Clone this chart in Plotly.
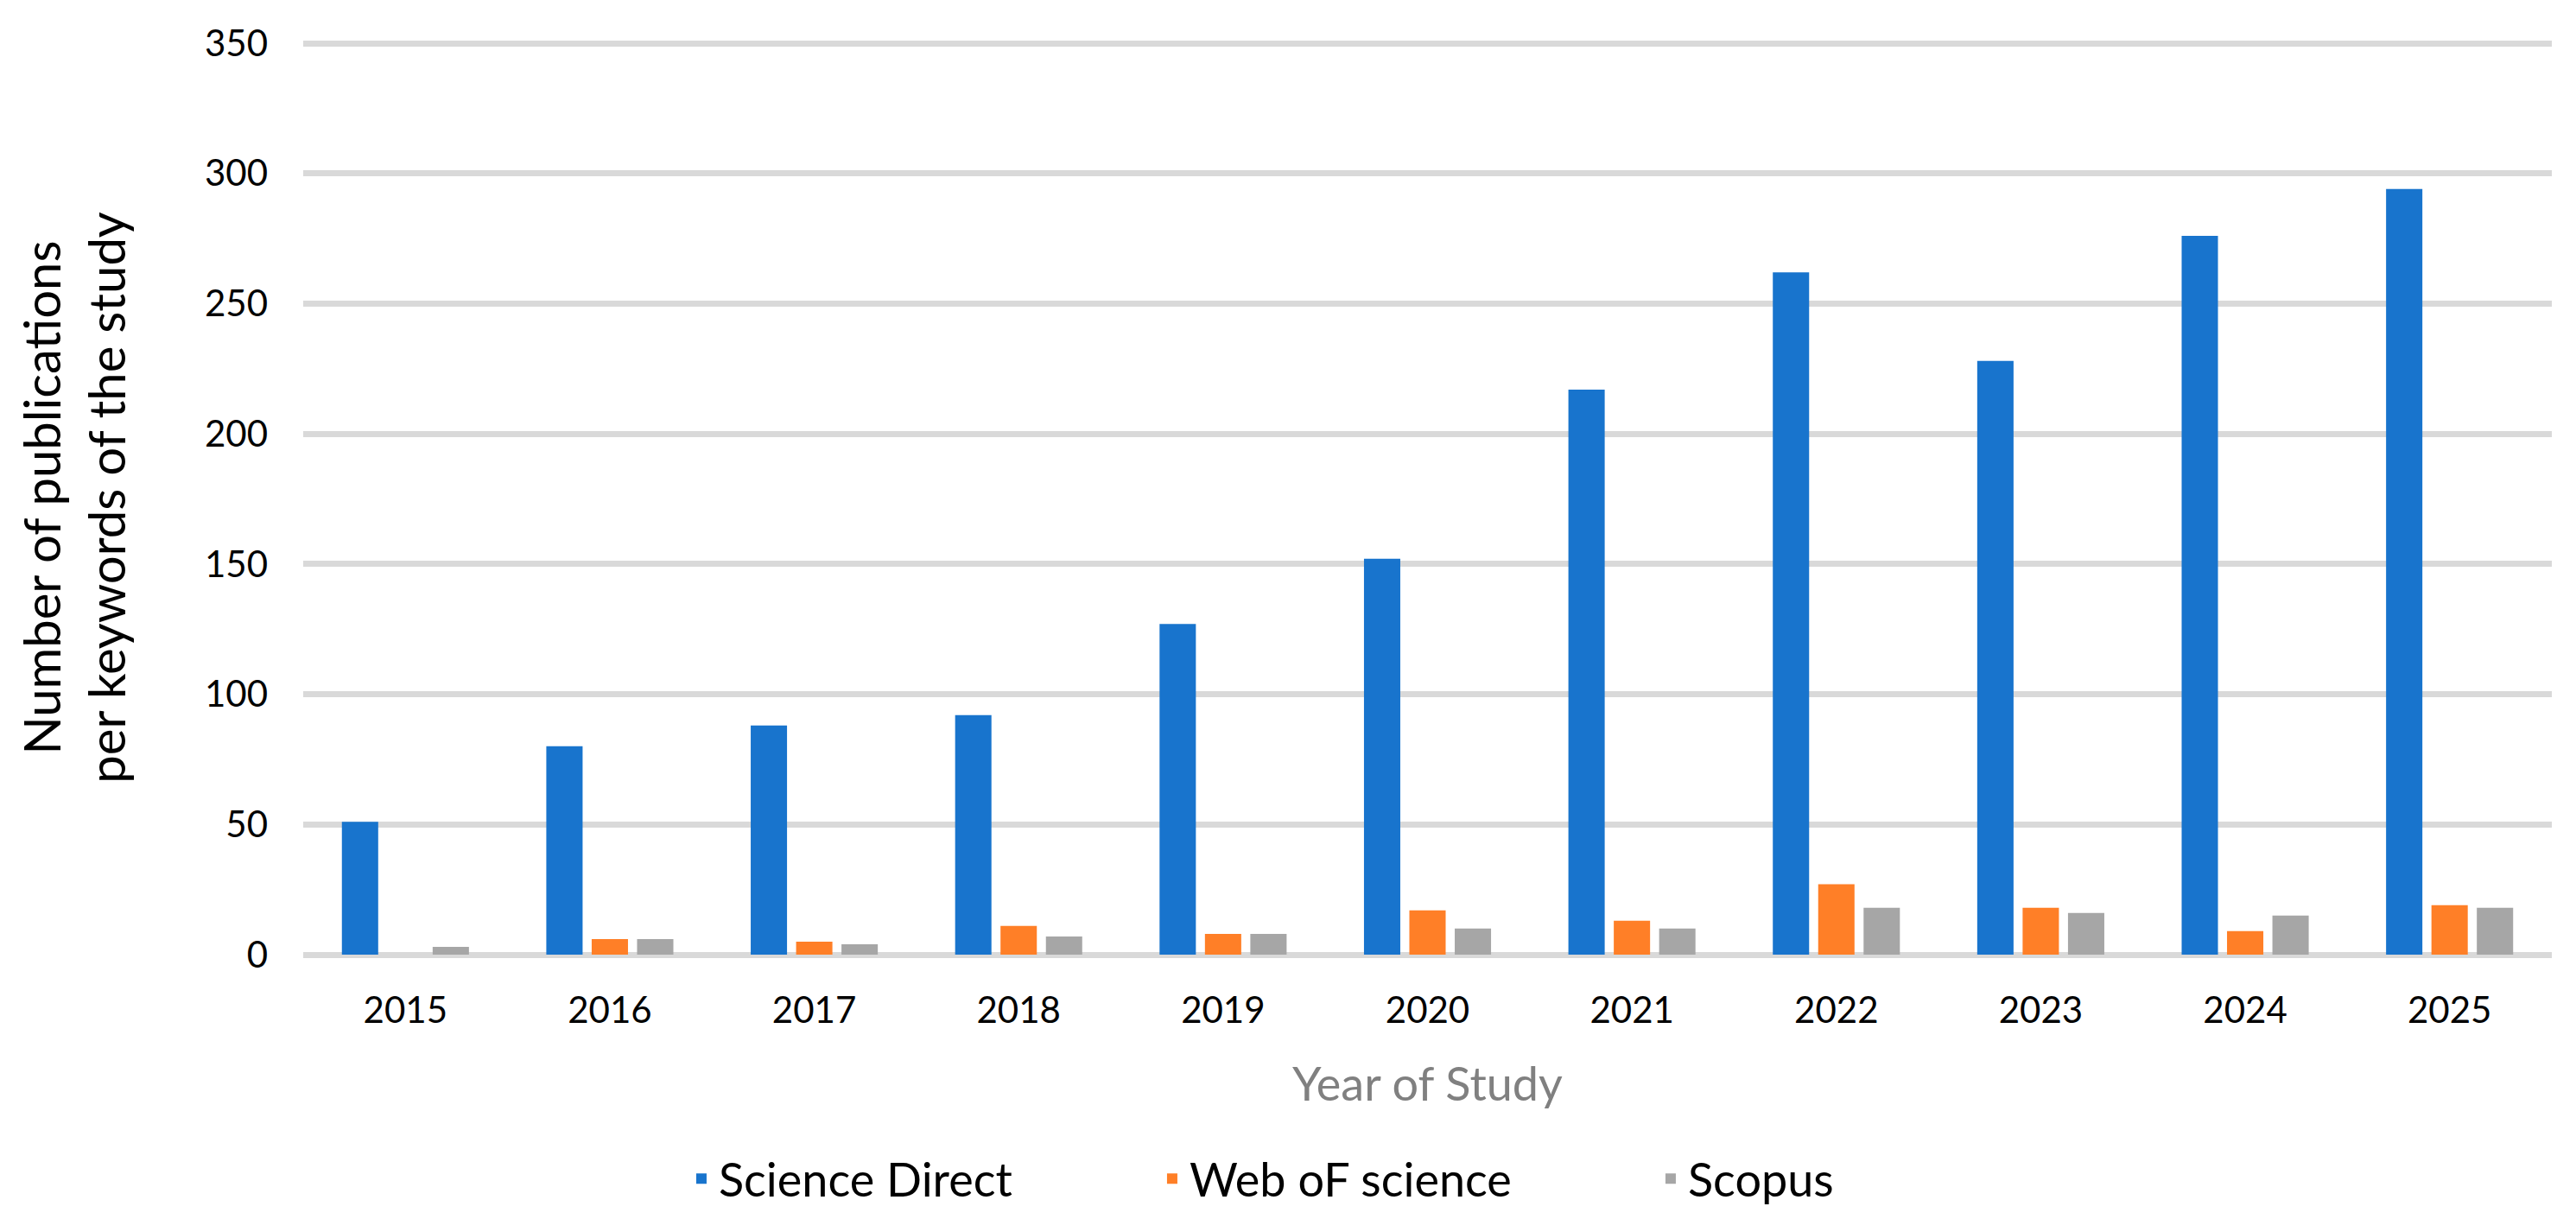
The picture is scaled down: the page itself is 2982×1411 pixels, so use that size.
import plotly.graph_objects as go

years = ["2015", "2016", "2017", "2018", "2019", "2020", "2021", "2022", "2023", "2024", "2025"]
science_direct = [51, 80, 88, 92, 127, 152, 217, 262, 228, 276, 294]
web_of_science = [0, 6, 5, 11, 8, 17, 13, 27, 18, 9, 19]
scopus = [3, 6, 4, 7, 8, 10, 10, 18, 16, 15, 18]
y_ticks = [0, 50, 100, 150, 200, 250, 300, 350]

FONT = "Lato"
fig = go.Figure()
fig.add_trace(go.Bar(x=years, y=science_direct, name="Science Direct",
                     marker=dict(color="#1874CD", line=dict(width=0)), legendwidth=500))
fig.add_trace(go.Bar(x=years, y=web_of_science, name="Web oF science",
                     marker=dict(color="#FF7F27", line=dict(width=0)), legendwidth=532))
fig.add_trace(go.Bar(x=years, y=scopus, name="Scopus",
                     marker=dict(color="#A6A6A6", line=dict(width=0))))

fig.update_layout(
    width=2982, height=1411,
    margin=dict(l=343, r=36, t=39, b=301),
    paper_bgcolor="white", plot_bgcolor="white",
    barmode="group", bargap=0.334, bargroupgap=0.2,
    font=dict(family=FONT, color="black", size=42),
    showlegend=True,
    legend=dict(orientation="h", x=0.1694, xanchor="left", y=-0.2453, yanchor="middle",
                font=dict(family=FONT, size=54, color="black"), bgcolor="rgba(0,0,0,0)",
                traceorder="normal"),
    xaxis=dict(
        title=dict(text="Year of Study", font=dict(family=FONT, size=54, color="#808080"), standoff=44),
        tickfont=dict(family=FONT, size=42, color="black"),
        showgrid=False, showline=False, ticks="", ticklabelstandoff=36, automargin=True,
    ),
    yaxis=dict(
        title=dict(text="Number of publications<br>per keywords of the study",
                   font=dict(family=FONT, size=58, color="black"), standoff=72),
        tickfont=dict(family=FONT, size=42, color="black"),
        range=[0, 351], tickvals=y_ticks, ticks="",
        showgrid=True, gridcolor="#D9D9D9", gridwidth=7,
        zeroline=True, zerolinecolor="#D9D9D9", zerolinewidth=7,
        showline=False, ticklabelstandoff=40, automargin=True,
    ),
)

fig.write_html("out.html")
